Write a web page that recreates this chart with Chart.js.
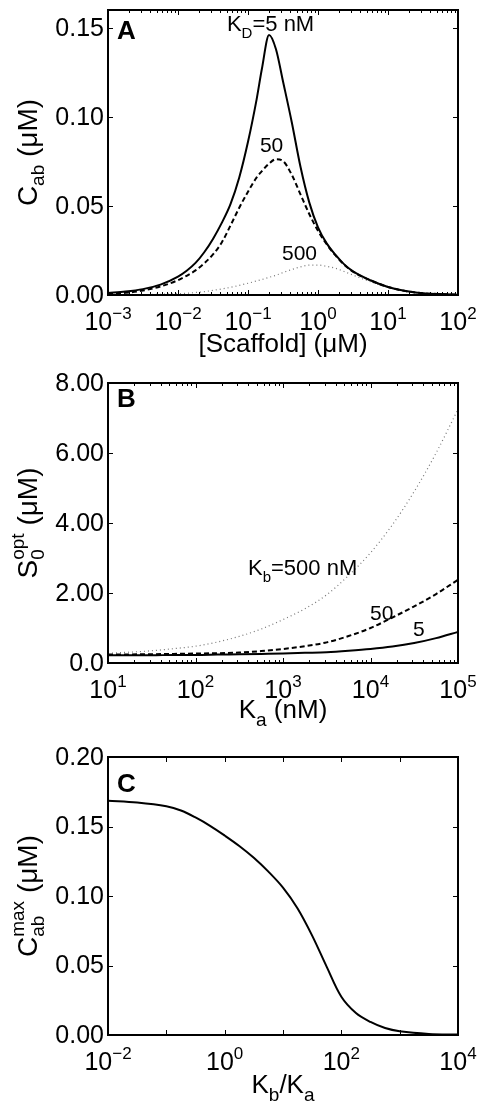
<!DOCTYPE html>
<html>
<head>
<meta charset="utf-8">
<script src="https://cdn.jsdelivr.net/npm/chart.js@4/dist/chart.umd.min.js"></script>
<style>
  body { margin: 0; background: #fff; }
  .panel { width: 481px; height: 368px; }
  canvas { display: block; }
</style>
</head>
<body>
<div class="panel"><canvas id="chartA" width="481" height="368"></canvas></div>
<div class="panel"><canvas id="chartB" width="481" height="368"></canvas></div>
<div class="panel"><canvas id="chartC" width="481" height="368"></canvas></div>
<script>
// panel A: complex vs scaffold concentration (uM)
var scaffold = [0.001, 0.00178, 0.00316, 0.00562, 0.01, 0.0133, 0.0178, 0.0237, 0.0316, 0.0422, 0.0562, 0.075,
  0.1, 0.133, 0.158, 0.2, 0.251, 0.316, 0.422, 0.562, 0.75, 1, 1.33, 1.78, 2.37, 3.16, 5.62, 10, 17.8, 31.6, 56.2, 100];
var cabKd5 = [0.0011, 0.0019, 0.0033, 0.0058, 0.0103, 0.0136, 0.018, 0.024, 0.0315, 0.0405, 0.051, 0.066,
  0.086, 0.11, 0.127, 0.146, 0.138, 0.12, 0.097, 0.072, 0.052, 0.038, 0.029, 0.0225, 0.0172, 0.0133, 0.0083, 0.0045,
  0.0022, 0.001, 0.0005, 0.0002];
var cabKd50 = [0.0006, 0.0012, 0.0025, 0.0048, 0.0083, 0.0108, 0.0138, 0.0178, 0.0228, 0.0295, 0.039, 0.049,
  0.058, 0.066, 0.0695, 0.0738, 0.0762, 0.0752, 0.0675, 0.0565, 0.0455, 0.036, 0.0285, 0.0222, 0.017, 0.0131, 0.0082,
  0.0045, 0.0022, 0.001, 0.0005, 0.0002];
var cabKd500 = [0.00005, 0.0001, 0.0002, 0.0004, 0.0007, 0.001, 0.0014, 0.0019, 0.0026, 0.0034, 0.0043, 0.0054,
  0.0066, 0.0079, 0.0087, 0.0099, 0.0111, 0.0126, 0.0143, 0.0158, 0.0168, 0.0168, 0.0161, 0.015, 0.0132, 0.0112,
  0.0075, 0.0043, 0.0022, 0.001, 0.0005, 0.0002];
var cabTicks = [0, 0.05, 0.10, 0.15];
var cabTickLabels = ['0.00', '0.05', '0.10', '0.15'];
var scaffoldExps = [-3, -2, -1, 0, 1, 2];

// panel B: optimal scaffold vs Ka (nM)
var ka = [10, 17.8, 31.6, 56.2, 100, 178, 316, 562, 1000, 1780, 3160, 5620, 10000, 17800, 31600, 56200, 100000];
var sOptKb5 = [0.22, 0.22, 0.22, 0.23, 0.23, 0.24, 0.25, 0.26, 0.27, 0.29, 0.31, 0.35, 0.4, 0.47, 0.57, 0.71, 0.89];
var sOptKb50 = [0.24, 0.245, 0.25, 0.26, 0.27, 0.28, 0.3, 0.34, 0.4, 0.48, 0.59, 0.77, 1.0, 1.3, 1.62, 1.97, 2.38];
var sOptKb500 = [0.28, 0.31, 0.35, 0.41, 0.48, 0.6, 0.76, 0.97, 1.24, 1.55, 1.95, 2.5, 3.15, 3.95, 4.9, 6.0, 7.25];
var sOptTicks = [0, 2, 4, 6, 8];
var sOptTickLabels = ['0.0', '2.00', '4.00', '6.00', '8.00'];
var kaExps = [1, 2, 3, 4, 5];

// panel C: max complex vs Kb/Ka
var kbKa = [0.01, 0.0316, 0.1, 0.178, 0.316, 0.562, 1, 1.78, 3.16, 5.62, 10, 17.8, 31.6, 56.2, 100, 178, 316, 562,
  1000, 3160, 10000];
var cabMax = [0.1686, 0.1672, 0.1645, 0.1615, 0.1565, 0.1505, 0.1435, 0.136, 0.1275, 0.1175, 0.106, 0.091, 0.0715,
  0.049, 0.0275, 0.0158, 0.0094, 0.005, 0.0027, 0.0008, 0.0003];
var cabMaxTicks = [0, 0.05, 0.10, 0.15, 0.20];
var cabMaxTickLabels = ['0.00', '0.05', '0.10', '0.15', '0.20'];
var kbKaExps = [-2, 0, 2, 4];
var kbKaMinorExps = [-1, 1, 3];

var FONT = '"Liberation Sans", Arial, Helvetica, sans-serif';

function pts(xs, ys) {
  return xs.map(function(x, i) { return { x: x, y: ys[i] }; });
}

// draws a run of text pieces (sub/superscripts via dy), stay=true pieces share width with the next one
function drawParts(ctx, parts, x, y, align) {
  var total = 0, pending = 0;
  parts.forEach(function(p) {
    ctx.font = (p.bold ? 'bold ' : '') + (p.size || 26) + 'px ' + FONT;
    p.w = ctx.measureText(p.t).width;
    if (p.stay) { pending = p.w; }
    else { total += Math.max(p.w, pending); pending = 0; }
  });
  var cx = align === 'center' ? x - total / 2 : (align === 'right' ? x - total : x);
  pending = 0;
  ctx.textAlign = 'left';
  ctx.textBaseline = 'alphabetic';
  parts.forEach(function(p) {
    ctx.font = (p.bold ? 'bold ' : '') + (p.size || 26) + 'px ' + FONT;
    ctx.fillText(p.t, cx, y + (p.dy || 0));
    if (p.stay) { pending = p.w; }
    else { cx += Math.max(p.w, pending); pending = 0; }
  });
}

function expLabel(e) {
  return [{ t: '10', size: 25 }, { t: (e < 0 ? '\u2212' : '') + Math.abs(e), size: 17, dy: -11 }];
}

var matlabAxes = {
  id: 'matlabAxes',
  afterDraw: function(chart, args, o) {
    var ctx = chart.ctx, a = chart.chartArea;
    var xs = chart.scales.x, ys = chart.scales.y;
    ctx.save();
    ctx.strokeStyle = '#000';
    ctx.fillStyle = '#000';

    // ticks, pointing inward on all four sides
    ctx.lineWidth = 1;
    ctx.beginPath();
    function xTick(px, len) {
      ctx.moveTo(px, a.bottom); ctx.lineTo(px, a.bottom - len);
      ctx.moveTo(px, a.top); ctx.lineTo(px, a.top + len);
    }
    o.xExps.concat(o.xMinorExps || []).forEach(function(e) {
      xTick(Math.round(xs.getPixelForValue(Math.pow(10, e))) + 0.5, 5);
    });
    if (o.minor) {
      var lo = Math.round(Math.log10(xs.min)), hi = Math.round(Math.log10(xs.max));
      for (var d = lo; d < hi; d++) {
        for (var k = 2; k <= 9; k++) {
          xTick(Math.round(xs.getPixelForValue(k * Math.pow(10, d))) + 0.5, 3);
        }
      }
    }
    o.yTicks.forEach(function(v) {
      var py = Math.round(ys.getPixelForValue(v)) + 0.5;
      ctx.moveTo(a.left, py); ctx.lineTo(a.left + 5, py);
      ctx.moveTo(a.right, py); ctx.lineTo(a.right - 5, py);
    });
    ctx.stroke();

    // box
    ctx.lineWidth = 2;
    ctx.strokeRect(a.left, a.top, a.right - a.left, a.bottom - a.top);

    // y tick labels
    ctx.font = '25px ' + FONT;
    ctx.textAlign = 'right';
    ctx.textBaseline = 'middle';
    o.yTicks.forEach(function(v, i) {
      ctx.fillText(o.yLabels[i], a.left - 4, ys.getPixelForValue(v) + 1);
    });

    // x tick labels 10^n
    o.xExps.forEach(function(e) {
      drawParts(ctx, expLabel(e), xs.getPixelForValue(Math.pow(10, e)), a.bottom + 35, 'center');
    });

    // axis titles
    drawParts(ctx, o.xTitle, (a.left + a.right) / 2, o.xTitleY, 'center');
    ctx.save();
    ctx.translate(37, (a.top + a.bottom) / 2);
    ctx.rotate(-Math.PI / 2);
    drawParts(ctx, o.yTitle, 0, 0, 'center');
    ctx.restore();

    // panel letter
    drawParts(ctx, [{ t: o.letter, size: 26, bold: true }], a.left + 9, a.top + o.letterY, 'left');

    // curve labels, anchored in data coordinates
    (o.notes || []).forEach(function(n) {
      drawParts(ctx, n.parts, xs.getPixelForValue(n.x), ys.getPixelForValue(n.y), 'left');
    });
    ctx.restore();
  }
};

function lineSet(data, style) {
  var ds = {
    data: data,
    borderColor: '#000',
    borderWidth: 2,
    pointRadius: 0,
    fill: false,
    cubicInterpolationMode: 'monotone'
  };
  if (style === 'dash') { ds.borderDash = [5, 3]; }
  if (style === 'dot') { ds.borderDash = [1, 3]; ds.borderColor = '#777'; ds.borderWidth = 1.2; }
  if (style === 'smooth') { ds.cubicInterpolationMode = 'default'; ds.tension = 0.35; }
  return ds;
}

function makeChart(id, datasets, xMin, xMax, yMax, pad, axes) {
  return new Chart(document.getElementById(id), {
    type: 'line',
    data: { datasets: datasets },
    options: {
      responsive: false,
      animation: false,
      layout: { padding: pad },
      scales: {
        x: { type: 'logarithmic', min: xMin, max: xMax, display: false },
        y: { type: 'linear', min: 0, max: yMax, display: false }
      },
      plugins: {
        legend: { display: false },
        tooltip: { enabled: false },
        matlabAxes: axes
      }
    },
    plugins: [matlabAxes]
  });
}

var chartA = makeChart('chartA', [
    lineSet(pts(scaffold, cabKd5), 'solid'),
    lineSet(pts(scaffold, cabKd50), 'dash'),
    lineSet(pts(scaffold, cabKd500), 'dot')
  ], 0.001, 100, 0.16, { left: 108, right: 23, top: 10, bottom: 73 }, {
    yTicks: cabTicks, yLabels: cabTickLabels, xExps: scaffoldExps, minor: true,
    xTitle: [{ t: '[Scaffold] (\u03bcM)', size: 26 }], xTitleY: 352,
    yTitle: [{ t: 'C', size: 28 }, { t: 'ab', size: 19, dy: 7 }, { t: ' (\u03bcM)', size: 28 }],
    letter: 'A', letterY: 29,
    notes: [
      { x: 0.05, y: 0.148, parts: [{ t: 'K', size: 22 }, { t: 'D', size: 15, dy: 7 }, { t: '=5 nM', size: 22 }] },
      { x: 0.148, y: 0.0803, parts: [{ t: '50', size: 21 }] },
      { x: 0.306, y: 0.0197, parts: [{ t: '500', size: 21 }] }
    ]
  });

var chartB = makeChart('chartB', [
    lineSet(pts(ka, sOptKb5), 'solid'),
    lineSet(pts(ka, sOptKb50), 'dash'),
    lineSet(pts(ka, sOptKb500), 'dot')
  ], 10, 100000, 8, { left: 108, right: 23, top: 15, bottom: 73 }, {
    yTicks: sOptTicks, yLabels: sOptTickLabels, xExps: kaExps, minor: true,
    xTitle: [{ t: 'K', size: 26 }, { t: 'a', size: 19, dy: 8 }, { t: ' (nM)', size: 26 }], xTitleY: 350,
    yTitle: [{ t: 'S', size: 28 }, { t: '0', size: 19, dy: 7, stay: true }, { t: 'opt', size: 19, dy: -13 },
      { t: ' (\u03bcM)', size: 28 }],
    letter: 'B', letterY: 24,
    notes: [
      { x: 398, y: 2.51, parts: [{ t: 'K', size: 22 }, { t: 'b', size: 15, dy: 7 }, { t: '=500 nM', size: 22 }] },
      { x: 9860, y: 1.23, parts: [{ t: '50', size: 21 }] },
      { x: 30600, y: 0.77, parts: [{ t: '5', size: 21 }] }
    ]
  });

var chartC = makeChart('chartC', [
    lineSet(pts(kbKa, cabMax), 'smooth')
  ], 0.01, 10000, 0.2, { left: 108, right: 23, top: 21, bottom: 69 }, {
    yTicks: cabMaxTicks, yLabels: cabMaxTickLabels, xExps: kbKaExps, xMinorExps: kbKaMinorExps, minor: false,
    xTitle: [{ t: 'K', size: 26 }, { t: 'b', size: 19, dy: 8 }, { t: '/K', size: 26 }, { t: 'a', size: 19, dy: 8 }],
    xTitleY: 357,
    yTitle: [{ t: 'C', size: 28 }, { t: 'ab', size: 19, dy: 7, stay: true }, { t: 'max', size: 19, dy: -13 },
      { t: ' (\u03bcM)', size: 28 }],
    letter: 'C', letterY: 35
  });
</script>
</body>
</html>
